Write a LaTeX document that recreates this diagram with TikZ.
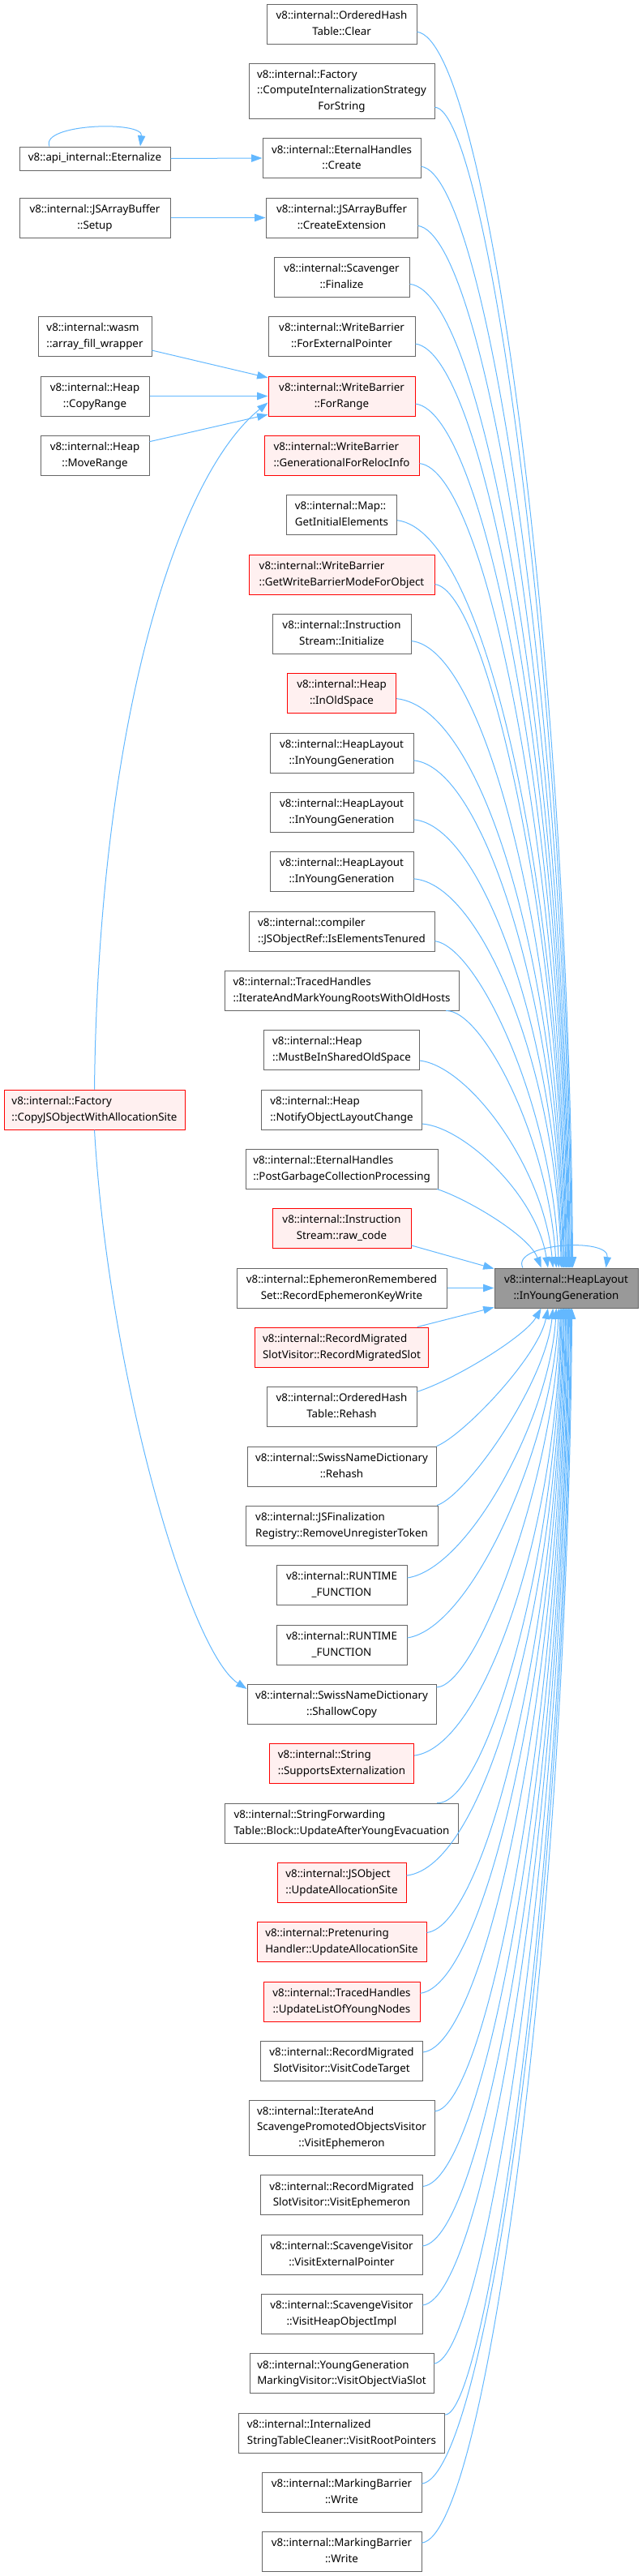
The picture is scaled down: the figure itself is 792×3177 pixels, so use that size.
\documentclass[tikz,border=0pt]{standalone}
\usepackage{fontspec}
\setmainfont{Noto Sans}
\usepackage{xcolor}
\usepackage{tikz}
\usetikzlibrary{arrows.meta}

\definecolor{nodegray}{HTML}{666666}
\definecolor{truncred}{HTML}{FF0000}
\definecolor{truncfill}{HTML}{FFF0F0}
\definecolor{curgray}{HTML}{999999}
\definecolor{edgeblue}{HTML}{63B8FF}

\newcommand{\fnfont}{\fontsize{10}{14.5}\selectfont}
\newcommand{\lbl}[2]{\begin{tabular}{@{}l@{}}#1\\\multicolumn{1}{@{}c@{}}{#2}\end{tabular}}
\newcommand{\lblthree}[3]{\begin{tabular}{@{}l@{}}#1\\#2\\\multicolumn{1}{@{}c@{}}{#3}\end{tabular}}

\tikzset{
  fn/.style={draw=nodegray, fill=white, line width=0.75pt, inner sep=0pt, minimum height=36.75pt, font=\fnfont},
  fnred/.style={fn, draw=truncred, fill=truncfill},
  fncur/.style={fn, draw=nodegray, fill=curgray},
  boxw/.style={minimum width=#1*0.75pt},
  calledge/.style={draw=edgeblue, line width=0.75pt, -{Triangle[length=10pt,width=7pt]}},
}

\begin{document}
\begin{tikzpicture}[x=0.75pt, y=-0.75pt]
		\useasboundingbox (0,0) rectangle (792,3177);

		\node[fn, boxw=185] (clear) at (421.5,29.5) {\lbl{v8::internal::OrderedHash}{Table::Clear}};
		\node[fn, boxw=229, minimum height=51pt] (compstr) at (421.5,112) {\lblthree{v8::internal::Factory}{::ComputeInternalizationStrategy}{ForString}};
		\node[fn, boxw=195] (ehcreate) at (421.5,195) {\lbl{v8::internal::EternalHandles}{::Create}};
		\node[fn, boxw=187] (createext) at (421.5,268.5) {\lbl{v8::internal::JSArrayBuffer}{::CreateExtension}};
		\node[fn, boxw=167] (finalize) at (421.5,341.5) {\lbl{v8::internal::Scavenger}{::Finalize}};
		\node[fn, boxw=181] (forextptr) at (421.5,414.5) {\lbl{v8::internal::WriteBarrier}{::ForExternalPointer}};
		\node[fnred, boxw=181] (forrange) at (421.5,488.5) {\lbl{v8::internal::WriteBarrier}{::ForRange}};
		\node[fnred, boxw=191] (genreloc) at (421.5,561.5) {\lbl{v8::internal::WriteBarrier}{::GenerationalForRelocInfo}};
		\node[fn, boxw=136] (initelem) at (421.5,634.5) {\lbl{v8::internal::Map::}{GetInitialElements}};
		\node[fnred, boxw=229] (wbmode) at (421.5,708.5) {\lbl{v8::internal::WriteBarrier}{::GetWriteBarrierModeForObject}};
		\node[fn, boxw=171] (isinit) at (421.5,781.5) {\lbl{v8::internal::Instruction}{Stream::Initialize}};
		\node[fnred, boxw=134] (inold) at (421.5,854.5) {\lbl{v8::internal::Heap}{::InOldSpace}};
		\node[fn, boxw=177] (iyga) at (421.5,928.5) {\lbl{v8::internal::HeapLayout}{::InYoungGeneration}};
		\node[fn, boxw=177] (iygb) at (421.5,1001.5) {\lbl{v8::internal::HeapLayout}{::InYoungGeneration}};
		\node[fn, boxw=177] (iygc) at (421.5,1074.5) {\lbl{v8::internal::HeapLayout}{::InYoungGeneration}};
		\node[fn, boxw=229] (tenured) at (421.5,1148.5) {\lbl{v8::internal::compiler}{::JSObjectRef::IsElementsTenured}};
		\node[fn, boxw=289] (iterold) at (421.5,1221.5) {\lbl{v8::internal::TracedHandles}{::IterateAndMarkYoungRootsWithOldHosts}};
		\node[fn, boxw=192] (mustshared) at (421.5,1294.5) {\lbl{v8::internal::Heap}{::MustBeInSharedOldSpace}};
		\node[fn, boxw=198] (notify) at (421.5,1368.5) {\lbl{v8::internal::Heap}{::NotifyObjectLayoutChange}};
		\node[fn, boxw=237] (postgc) at (421.5,1441.5) {\lbl{v8::internal::EternalHandles}{::PostGarbageCollectionProcessing}};
		\node[fnred, boxw=171] (rawcode) at (421.5,1514.5) {\lbl{v8::internal::Instruction}{Stream::raw\_code}};
		\node[fn, boxw=259] (ephkey) at (421.5,1588.5) {\lbl{v8::internal::EphemeronRemembered}{Set::RecordEphemeronKeyWrite}};
		\node[fnred, boxw=214] (recslot) at (421.5,1661.5) {\lbl{v8::internal::RecordMigrated}{SlotVisitor::RecordMigratedSlot}};
		\node[fn, boxw=185] (ohrehash) at (421.5,1734.5) {\lbl{v8::internal::OrderedHash}{Table::Rehash}};
		\node[fn, boxw=233] (swrehash) at (421.5,1808.5) {\lbl{v8::internal::SwissNameDictionary}{::Rehash}};
		\node[fn, boxw=237] (unreg) at (421.5,1881.5) {\lbl{v8::internal::JSFinalization}{Registry::RemoveUnregisterToken}};
		\node[fn, boxw=161] (rtfa) at (421.5,1954.5) {\lbl{v8::internal::RUNTIME}{\_FUNCTION}};
		\node[fn, boxw=161] (rtfb) at (421.5,2028.5) {\lbl{v8::internal::RUNTIME}{\_FUNCTION}};
		\node[fn, boxw=233] (shallow) at (421.5,2101.5) {\lbl{v8::internal::SwissNameDictionary}{::ShallowCopy}};
		\node[fnred, boxw=178] (supext) at (421.5,2174.5) {\lbl{v8::internal::String}{::SupportsExternalization}};
		\node[fn, boxw=288] (youngevac) at (421.5,2248.5) {\lbl{v8::internal::StringForwarding}{Table::Block::UpdateAfterYoungEvacuation}};
		\node[fnred, boxw=159] (jsupdate) at (421.5,2321.5) {\lbl{v8::internal::JSObject}{::UpdateAllocationSite}};
		\node[fnred, boxw=209] (pretupdate) at (421.5,2394.5) {\lbl{v8::internal::Pretenuring}{Handler::UpdateAllocationSite}};
		\node[fnred, boxw=193] (youngnodes) at (421.5,2468.5) {\lbl{v8::internal::TracedHandles}{::UpdateListOfYoungNodes}};
		\node[fn, boxw=200] (codetarget) at (421.5,2541.5) {\lbl{v8::internal::RecordMigrated}{SlotVisitor::VisitCodeTarget}};
		\node[fn, boxw=229, minimum height=51pt] (scavephem) at (421.5,2624) {\lblthree{v8::internal::IterateAnd}{ScavengePromotedObjectsVisitor}{::VisitEphemeron}};
		\node[fn, boxw=200] (slotephem) at (421.5,2707) {\lbl{v8::internal::RecordMigrated}{SlotVisitor::VisitEphemeron}};
		\node[fn, boxw=199] (extptr) at (421.5,2780.5) {\lbl{v8::internal::ScavengeVisitor}{::VisitExternalPointer}};
		\node[fn, boxw=199] (heapobj) at (421.5,2853.5) {\lbl{v8::internal::ScavengeVisitor}{::VisitHeapObjectImpl}};
		\node[fn, boxw=227] (viaslot) at (421.5,2927) {\lbl{v8::internal::YoungGeneration}{MarkingVisitor::VisitObjectViaSlot}};
		\node[fn, boxw=254] (rootptr) at (421.5,3000.5) {\lbl{v8::internal::Internalized}{StringTableCleaner::VisitRootPointers}};
		\node[fn, boxw=197] (mbwritea) at (421.5,3073.5) {\lbl{v8::internal::MarkingBarrier}{::Write}};
		\node[fn, boxw=197] (mbwriteb) at (421.5,3146.5) {\lbl{v8::internal::MarkingBarrier}{::Write}};

		\node[fn, boxw=186, minimum height=21.75pt] (eternalize) at (117,195.5) {v8::api\_internal::Eternalize};
		\node[fn, boxw=186] (setup) at (117,268.5) {\lbl{v8::internal::JSArrayBuffer}{::Setup}};
		\node[fn, boxw=140] (arrayfill) at (117,414.5) {\lbl{v8::internal::wasm}{::array\_fill\_wrapper}};
		\node[fn, boxw=134] (copyrange) at (117,488.5) {\lbl{v8::internal::Heap}{::CopyRange}};
		\node[fn, boxw=134] (moverange) at (117,561.5) {\lbl{v8::internal::Heap}{::MoveRange}};
		\node[fnred, boxw=223] (copyjs) at (116.5,1368.5) {\lbl{v8::internal::Factory}{::CopyJSObjectWithAllocationSite}};

		\node[fncur, boxw=177] (target) at (698.5,1588.5) {\lbl{v8::internal::HeapLayout}{::InYoungGeneration}};

		\draw[calledge] (eternalize.east) -- (ehcreate.west);
		\draw[calledge] (eternalize.165) .. controls +(-12,-28) and +(4,-32) .. (eternalize.15);
		\draw[calledge] (setup.east) -- (createext.west);
		\draw[calledge] (arrayfill.-14) -- (forrange.166);
		\draw[calledge] (copyrange.east) -- (forrange.west);
		\draw[calledge] (moverange.14) -- (forrange.194);
		\draw[calledge] (copyjs.north) .. controls +(5,-444) and +(-115,93) .. (forrange.185);
		\draw[calledge] (copyjs.south) .. controls +(18,307) and +(-70,-45) .. (shallow.171);

		\draw[calledge] (clear.-6) .. controls (600,50) and +(-6,-767) .. (target.72);
		\draw[calledge] (compstr.-10) .. controls (600,135) and +(-6,-726) .. (target.74);
		\draw[calledge] (ehcreate.-6) .. controls (600,215) and +(-6,-684) .. (target.76);
		\draw[calledge] (createext.-6) .. controls (600,290) and +(-6,-648) .. (target.79);
		\draw[calledge] (finalize.-6) .. controls (600,360) and +(-6,-611) .. (target.81);
		\draw[calledge] (forextptr.-6) .. controls (600,435) and +(-6,-575) .. (target.83);
		\draw[calledge] (forrange.-6) .. controls (600,508) and +(-6,-538) .. (target.85);
		\draw[calledge] (genreloc.-6) .. controls (600,580) and +(-6,-501) .. (target.88);
		\draw[calledge] (initelem.-6) .. controls (600,655) and +(-6,-465) .. (target.90);
		\draw[calledge] (wbmode.-6) .. controls (600,728) and +(-6,-428) .. (target.92);
		\draw[calledge] (isinit.-6) .. controls (600,800) and +(-6,-391) .. (target.95);
		\draw[calledge] (inold.-6) .. controls (600,873) and +(-6,-355) .. (target.97);
		\draw[calledge] (iyga.-6) .. controls (598,946) and +(-6,-318) .. (target.99);
		\draw[calledge] (iygb.-6) .. controls (596,1018) and +(-6,-281) .. (target.102);
		\draw[calledge] (iygc.-6) .. controls (594,1090) and +(-6,-245) .. (target.104);
		\draw[calledge] (tenured.-6) .. controls (590,1168) and +(-8,-200) .. (target.110);
		\draw[calledge] (iterold.-11) .. controls (595,1245) and +(-10,-160) .. (target.116);
		\draw[calledge] (mustshared.-8) .. controls (578,1315) and +(-12,-125) .. (target.123);
		\draw[calledge] (notify.-10) .. controls (572,1390) and +(-14,-90) .. (target.132);
		\draw[calledge] (postgc.-12) .. controls (575,1478) and +(-15,-40) .. (target.141);
		\draw[calledge] (rawcode.-14) -- (target.165);
		\draw[calledge] (ephkey.east) -- (target.west);
		\draw[calledge] (recslot.15) -- (target.195);
		\draw[calledge] (ohrehash.11) .. controls (560,1702) and +(-20,35) .. (target.219);
		\draw[calledge] (swrehash.12) .. controls (572,1770) and +(-12,60) .. (target.228);
		\draw[calledge] (unreg.12) .. controls (575,1845) and +(-10,95) .. (target.237);
		\draw[calledge] (rtfa.6) .. controls (578,1935) and +(-8,135) .. (target.244);
		\draw[calledge] (rtfb.6) .. controls (582,2008) and +(-8,170) .. (target.250);
		\draw[calledge] (shallow.10) .. controls (588,2080) and +(-7,210) .. (target.254);
		\draw[calledge] (supext.6) .. controls (595,2155) and +(-6,281) .. (target.256);
		\draw[calledge] (youngevac.12) .. controls (597,2228) and +(-6,318) .. (target.258);
		\draw[calledge] (jsupdate.6) .. controls (600,2302) and +(-6,354) .. (target.261);
		\draw[calledge] (pretupdate.6) .. controls (600,2375) and +(-6,391) .. (target.263);
		\draw[calledge] (youngnodes.6) .. controls (600,2448) and +(-6,428) .. (target.265);
		\draw[calledge] (codetarget.6) .. controls (600,2522) and +(-6,464) .. (target.268);
		\draw[calledge] (scavephem.10) .. controls (600,2600) and +(-6,505) .. (target.270);
		\draw[calledge] (slotephem.6) .. controls (600,2687) and +(-6,547) .. (target.272);
		\draw[calledge] (extptr.6) .. controls (600,2760) and +(-6,584) .. (target.275);
		\draw[calledge] (heapobj.6) .. controls (600,2833) and +(-6,620) .. (target.277);
		\draw[calledge] (viaslot.6) .. controls (600,2907) and +(-6,657) .. (target.279);
		\draw[calledge] (rootptr.10) .. controls (600,2980) and +(-6,694) .. (target.282);
		\draw[calledge] (mbwritea.6) .. controls (600,3053) and +(-6,730) .. (target.284);
		\draw[calledge] (mbwriteb.6) .. controls (600,3126) and +(-6,767) .. (target.286);
		\draw[calledge] (target.155) .. controls +(-15,-30) and +(5,-38) .. (target.27);
	\end{tikzpicture}
\end{document}
